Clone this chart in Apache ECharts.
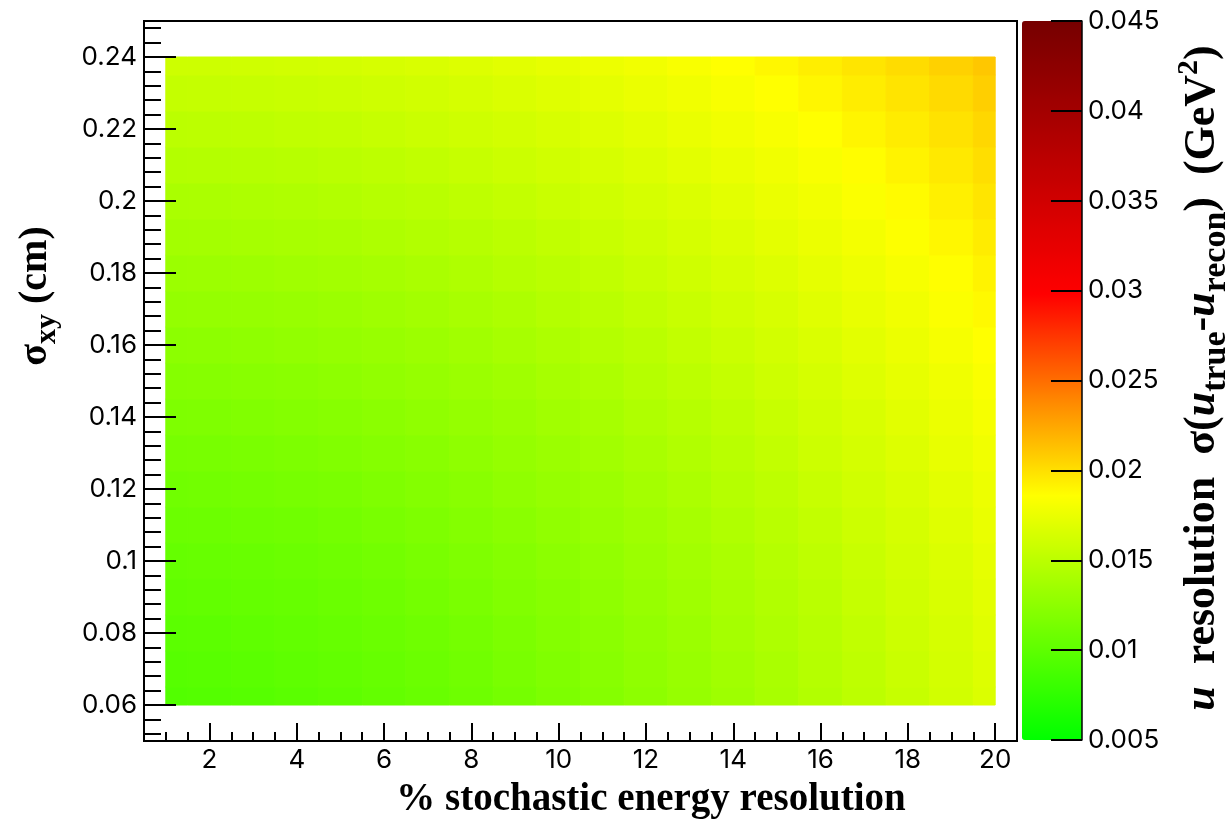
<!DOCTYPE html>
<html>
<head>
<meta charset="utf-8">
<script src="https://cdn.jsdelivr.net/npm/echarts@6/dist/echarts.min.js"></script>
<style>
  html, body { margin: 0; padding: 0; background: #fff; }
  #chart { width: 1229px; height: 821px; }
</style>
</head>
<body>
<div id="chart"></div>
<script>
// % stochastic energy resolution (x) and transverse vertex resolution sigma_xy in cm (y)
const stochasticRes = [1, 2, 3, 4, 5, 6, 7, 8, 9, 10, 11, 12, 13, 14, 15, 16, 17, 18, 19, 20];
const sigmaXY = [0.06, 0.07, 0.08, 0.09, 0.10, 0.11, 0.12, 0.13, 0.14, 0.15,
                 0.16, 0.17, 0.18, 0.19, 0.20, 0.21, 0.22, 0.23, 0.24];

// u resolution sigma(u_true - u_recon) in GeV^2; one row per sigmaXY value, one column per stochasticRes value
const uResolution = [
  [0.00940, 0.00948, 0.00960, 0.00978, 0.00999, 0.01025, 0.01055, 0.01088, 0.01125, 0.01165, 0.01207, 0.01251, 0.01298, 0.01347, 0.01397, 0.01449, 0.01503, 0.01557, 0.01613, 0.01670], // 0.06
  [0.00961, 0.00969, 0.00981, 0.00998, 0.01019, 0.01044, 0.01074, 0.01106, 0.01143, 0.01181, 0.01223, 0.01267, 0.01313, 0.01362, 0.01411, 0.01463, 0.01516, 0.01570, 0.01625, 0.01681], // 0.07
  [0.00985, 0.00992, 0.01004, 0.01020, 0.01041, 0.01066, 0.01095, 0.01127, 0.01162, 0.01201, 0.01242, 0.01285, 0.01331, 0.01378, 0.01428, 0.01478, 0.01531, 0.01584, 0.01639, 0.01695], // 0.08
  [0.01010, 0.01018, 0.01029, 0.01045, 0.01066, 0.01090, 0.01118, 0.01150, 0.01184, 0.01222, 0.01262, 0.01305, 0.01350, 0.01397, 0.01446, 0.01496, 0.01548, 0.01601, 0.01655, 0.01710], // 0.09
  [0.01039, 0.01046, 0.01057, 0.01073, 0.01092, 0.01116, 0.01144, 0.01174, 0.01209, 0.01245, 0.01285, 0.01327, 0.01371, 0.01417, 0.01465, 0.01515, 0.01566, 0.01619, 0.01672, 0.01727], // 0.10
  [0.01069, 0.01076, 0.01087, 0.01102, 0.01121, 0.01144, 0.01171, 0.01201, 0.01235, 0.01271, 0.01310, 0.01351, 0.01394, 0.01440, 0.01487, 0.01536, 0.01586, 0.01638, 0.01691, 0.01745], // 0.11
  [0.01101, 0.01108, 0.01118, 0.01133, 0.01152, 0.01175, 0.01201, 0.01230, 0.01263, 0.01298, 0.01336, 0.01377, 0.01419, 0.01464, 0.01510, 0.01559, 0.01608, 0.01659, 0.01712, 0.01765], // 0.12
  [0.01135, 0.01142, 0.01152, 0.01166, 0.01185, 0.01207, 0.01232, 0.01261, 0.01292, 0.01327, 0.01364, 0.01404, 0.01446, 0.01490, 0.01535, 0.01583, 0.01632, 0.01682, 0.01734, 0.01787], // 0.13
  [0.01171, 0.01177, 0.01187, 0.01201, 0.01219, 0.01240, 0.01265, 0.01293, 0.01324, 0.01358, 0.01394, 0.01433, 0.01474, 0.01517, 0.01562, 0.01609, 0.01657, 0.01706, 0.01757, 0.01810], // 0.14
  [0.01208, 0.01214, 0.01224, 0.01237, 0.01255, 0.01275, 0.01299, 0.01327, 0.01357, 0.01390, 0.01425, 0.01463, 0.01504, 0.01546, 0.01590, 0.01636, 0.01683, 0.01732, 0.01782, 0.01834], // 0.15
  [0.01247, 0.01252, 0.01262, 0.01275, 0.01292, 0.01312, 0.01335, 0.01362, 0.01391, 0.01423, 0.01458, 0.01495, 0.01535, 0.01576, 0.01619, 0.01664, 0.01711, 0.01759, 0.01809, 0.01859], // 0.16
  [0.01286, 0.01292, 0.01301, 0.01314, 0.01330, 0.01350, 0.01372, 0.01398, 0.01427, 0.01458, 0.01492, 0.01529, 0.01567, 0.01608, 0.01650, 0.01694, 0.01740, 0.01787, 0.01836, 0.01886], // 0.17
  [0.01327, 0.01332, 0.01341, 0.01354, 0.01369, 0.01388, 0.01411, 0.01436, 0.01464, 0.01494, 0.01528, 0.01563, 0.01601, 0.01640, 0.01682, 0.01725, 0.01770, 0.01817, 0.01865, 0.01914], // 0.18
  [0.01369, 0.01374, 0.01383, 0.01395, 0.01410, 0.01428, 0.01450, 0.01474, 0.01502, 0.01532, 0.01564, 0.01599, 0.01635, 0.01674, 0.01715, 0.01758, 0.01802, 0.01848, 0.01895, 0.01943], // 0.19
  [0.01411, 0.01416, 0.01425, 0.01437, 0.01451, 0.01469, 0.01490, 0.01514, 0.01541, 0.01570, 0.01601, 0.01635, 0.01671, 0.01709, 0.01749, 0.01791, 0.01835, 0.01880, 0.01926, 0.01974], // 0.20
  [0.01455, 0.01460, 0.01468, 0.01479, 0.01494, 0.01511, 0.01532, 0.01555, 0.01581, 0.01609, 0.01640, 0.01673, 0.01708, 0.01746, 0.01785, 0.01826, 0.01868, 0.01913, 0.01958, 0.02005], // 0.21
  [0.01499, 0.01504, 0.01512, 0.01523, 0.01537, 0.01554, 0.01574, 0.01596, 0.01622, 0.01649, 0.01679, 0.01712, 0.01746, 0.01783, 0.01821, 0.01861, 0.01903, 0.01946, 0.01991, 0.02037], // 0.22
  [0.01544, 0.01549, 0.01557, 0.01567, 0.01581, 0.01597, 0.01617, 0.01639, 0.01663, 0.01690, 0.01720, 0.01751, 0.01785, 0.01821, 0.01858, 0.01898, 0.01939, 0.01981, 0.02025, 0.02071], // 0.23
  [0.01590, 0.01594, 0.01602, 0.01612, 0.01626, 0.01642, 0.01660, 0.01682, 0.01706, 0.01732, 0.01761, 0.01792, 0.01825, 0.01860, 0.01896, 0.01935, 0.01975, 0.02017, 0.02060, 0.02105]  // 0.24
];

// Axis ranges
const X_RANGE = [0.5, 20.5];
const Y_RANGE = [0.05, 0.25];
const Z_RANGE = [0.005, 0.045];

// ---------------------------------------------------------------------------
// Layout
const FRAME = { left: 144, top: 21, width: 873, height: 720 };
const PALETTE_BOX = { left: 1022, top: 21, width: 60, height: 719 };
const LABEL_FONT = { fontFamily: 'Inter', fontSize: 26, color: '#000' };
const TITLE_FAMILY = '"Liberation Serif", "Times New Roman", serif';

function xPx(v) {
  return FRAME.left + (v - X_RANGE[0]) / (X_RANGE[1] - X_RANGE[0]) * FRAME.width;
}
function yPx(v) {
  return FRAME.top + (Y_RANGE[1] - v) / (Y_RANGE[1] - Y_RANGE[0]) * FRAME.height;
}

// Green -> yellow -> red -> dark red gradient palette
const PALETTE_STOPS = [
  [0.00, [0, 255, 0]],
  [0.34, [255, 255, 0]],
  [0.62, [255, 0, 0]],
  [1.00, [118, 0, 0]]
];
function paletteColors(n) {
  const out = [];
  for (let i = 0; i < n; i++) {
    const s = i / (n - 1);
    let k = 0;
    while (k < PALETTE_STOPS.length - 2 && s > PALETTE_STOPS[k + 1][0]) k++;
    const [s0, c0] = PALETTE_STOPS[k];
    const [s1, c1] = PALETTE_STOPS[k + 1];
    const t = (s - s0) / (s1 - s0);
    const c = c0.map((v, j) => Math.round(v + (c1[j] - v) * t));
    out.push('rgb(' + c.join(',') + ')');
  }
  return out;
}

// Cells: [x, y, value]
const cells = [];
sigmaXY.forEach((y, i) => {
  stochasticRes.forEach((x, j) => cells.push([x, y, uResolution[i][j]]));
});
const X_STEP = stochasticRes[1] - stochasticRes[0];
const Y_STEP = sigmaXY[1] - sigmaXY[0];
const X_LO = stochasticRes[0], X_HI = stochasticRes[stochasticRes.length - 1];
const Y_LO = sigmaXY[0], Y_HI = sigmaXY[sigmaXY.length - 1];

function renderCell(params, api) {
  const x = api.value(0), y = api.value(1);
  const x0 = Math.max(x - X_STEP / 2, X_LO), x1 = Math.min(x + X_STEP / 2, X_HI);
  const y0 = Math.max(y - Y_STEP / 2, Y_LO), y1 = Math.min(y + Y_STEP / 2, Y_HI);
  const pA = api.coord([x0, y1]);
  const pB = api.coord([x1, y0]);
  const color = api.visual('color');
  return {
    type: 'rect',
    shape: { x: pA[0], y: pA[1], width: pB[0] - pA[0], height: pB[1] - pA[1] },
    style: { fill: color, stroke: color, lineWidth: 1 }
  };
}

// Tick-only axes live in their own grids so that major and minor ticks
// can start exactly on their first tick value.
function tickGrid(left, top, width, height) {
  return { left, top, width, height, show: false, outerBoundsMode: 'none', containLabel: false };
}
const hiddenAxis = (gridIndex, min, max) => ({ type: 'value', gridIndex, min, max, show: false });

const grids = [
  { left: FRAME.left, top: FRAME.top, width: FRAME.width, height: FRAME.height,
    show: true, borderColor: '#000', borderWidth: 2, backgroundColor: 'transparent',
    outerBoundsMode: 'none', containLabel: false },                                   // 0 frame + cells
  tickGrid(xPx(1), FRAME.top, xPx(20) - xPx(1), FRAME.height),                        // 1 x minor ticks
  tickGrid(xPx(2), FRAME.top, xPx(20) - xPx(2), FRAME.height),                        // 2 x major ticks
  tickGrid(FRAME.left, yPx(0.248), FRAME.width, yPx(0.052) - yPx(0.248)),             // 3 y minor ticks
  tickGrid(FRAME.left, yPx(0.24), FRAME.width, yPx(0.06) - yPx(0.24)),                // 4 y major ticks
  tickGrid(PALETTE_BOX.left, PALETTE_BOX.top, PALETTE_BOX.width, PALETTE_BOX.height)  // 5 palette axis
];

const tickLine = { show: true, inside: true, lineStyle: { color: '#000', width: 2 } };
const noLine = { show: false, onZero: false };

const xAxes = [
  { type: 'value', gridIndex: 0, min: X_RANGE[0], max: X_RANGE[1], show: false },
  { type: 'value', gridIndex: 1, min: 1, max: 20, interval: 0.5, position: 'bottom', z: 5,
    axisLine: noLine, splitLine: { show: false }, axisLabel: { show: false },
    axisTick: Object.assign({ length: 9 }, tickLine) },
  { type: 'value', gridIndex: 2, min: 2, max: 20, interval: 2, position: 'bottom', z: 5,
    axisLine: noLine, splitLine: { show: false },
    axisLabel: Object.assign({ margin: 6 }, LABEL_FONT),
    axisTick: Object.assign({ length: 18 }, tickLine) },
  hiddenAxis(3, 0, 1),
  hiddenAxis(4, 0, 1),
  hiddenAxis(5, 0, 1)
];

const yAxes = [
  { type: 'value', gridIndex: 0, min: Y_RANGE[0], max: Y_RANGE[1], show: false },
  hiddenAxis(1, 0, 1),
  hiddenAxis(2, 0, 1),
  { type: 'value', gridIndex: 3, min: 0.052, max: 0.248, interval: 0.004, position: 'left', z: 5,
    axisLine: noLine, splitLine: { show: false }, axisLabel: { show: false },
    axisTick: Object.assign({ length: 17 }, tickLine) },
  { type: 'value', gridIndex: 4, min: 0.06, max: 0.24, interval: 0.02, position: 'left', z: 5,
    axisLine: noLine, splitLine: { show: false },
    axisLabel: Object.assign({ margin: 7 }, LABEL_FONT),
    axisTick: Object.assign({ length: 32 }, tickLine) },
  { type: 'value', gridIndex: 5, min: Z_RANGE[0], max: Z_RANGE[1], interval: 0.005, position: 'right', z: 10,
    axisLine: { show: true, onZero: false, lineStyle: { color: '#000', width: 1.5 } }, splitLine: { show: false },
    axisLabel: Object.assign({ margin: 6 }, LABEL_FONT),
    axisTick: Object.assign({ length: 31 }, tickLine) }
];

const titleRich = {
  b:   { fontFamily: TITLE_FAMILY, fontWeight: 'bold', fontSize: 44, lineHeight: 66 },
  i:   { fontFamily: TITLE_FAMILY, fontWeight: 'bold', fontStyle: 'italic', fontSize: 44, lineHeight: 66 },
  sub: { fontFamily: TITLE_FAMILY, fontWeight: 'bold', fontSize: 34, lineHeight: 66, padding: [26, 0, 0, 0] },
  sup: { fontFamily: TITLE_FAMILY, fontWeight: 'bold', fontSize: 30, lineHeight: 66, padding: [0, 0, 28, 0] }
};

const chart = echarts.init(document.getElementById('chart'), null, { renderer: 'canvas' });
chart.setOption({
  animation: false,
  backgroundColor: '#fff',
  grid: grids,
  xAxis: xAxes,
  yAxis: yAxes,
  visualMap: {
    type: 'continuous',
    seriesIndex: 0,
    dimension: 2,
    min: Z_RANGE[0],
    max: Z_RANGE[1],
    calculable: false,
    hoverLink: false,
    text: null,
    left: PALETTE_BOX.left,
    top: PALETTE_BOX.top,
    itemWidth: PALETTE_BOX.width,
    itemHeight: PALETTE_BOX.height,
    padding: 0,
    z: 2,
    inRange: { color: paletteColors(101) }
  },
  series: [{
    type: 'custom',
    coordinateSystem: 'cartesian2d',
    xAxisIndex: 0,
    yAxisIndex: 0,
    dimensions: ['x', 'y', 'u'],
    encode: { x: 0, y: 1 },
    data: cells,
    renderItem: renderCell,
    silent: true
  }],
  graphic: [
    { type: 'text', x: 651, y: 800, silent: true,
      style: { text: '% stochastic energy resolution', fontFamily: TITLE_FAMILY, fontWeight: 'bold',
               fontSize: 39, fill: '#000', align: 'center', verticalAlign: 'middle' } },
    { type: 'text', x: 36, y: 296, rotation: Math.PI / 2, silent: true,
      style: { text: '{g|σ}{sub|xy}{g| (cm)}', fill: '#000', align: 'center', verticalAlign: 'middle',
               rich: {
                 g:   { fontFamily: TITLE_FAMILY, fontWeight: 'bold', fontSize: 40, lineHeight: 60 },
                 sub: { fontFamily: TITLE_FAMILY, fontWeight: 'bold', fontSize: 30, lineHeight: 60, padding: [22, 0, 0, 0] }
               } } },
    { type: 'text', x: 1203, y: 378, rotation: Math.PI / 2, silent: true,
      style: { text: '{i|u}{b|  resolution  σ(}{i|u}{sub|true}{b|-}{i|u}{sub|recon}{b|)  (GeV}{sup|2}{b|)}',
               fill: '#000', align: 'center', verticalAlign: 'middle', rich: titleRich } }
  ]
});
</script>
</body>
</html>
